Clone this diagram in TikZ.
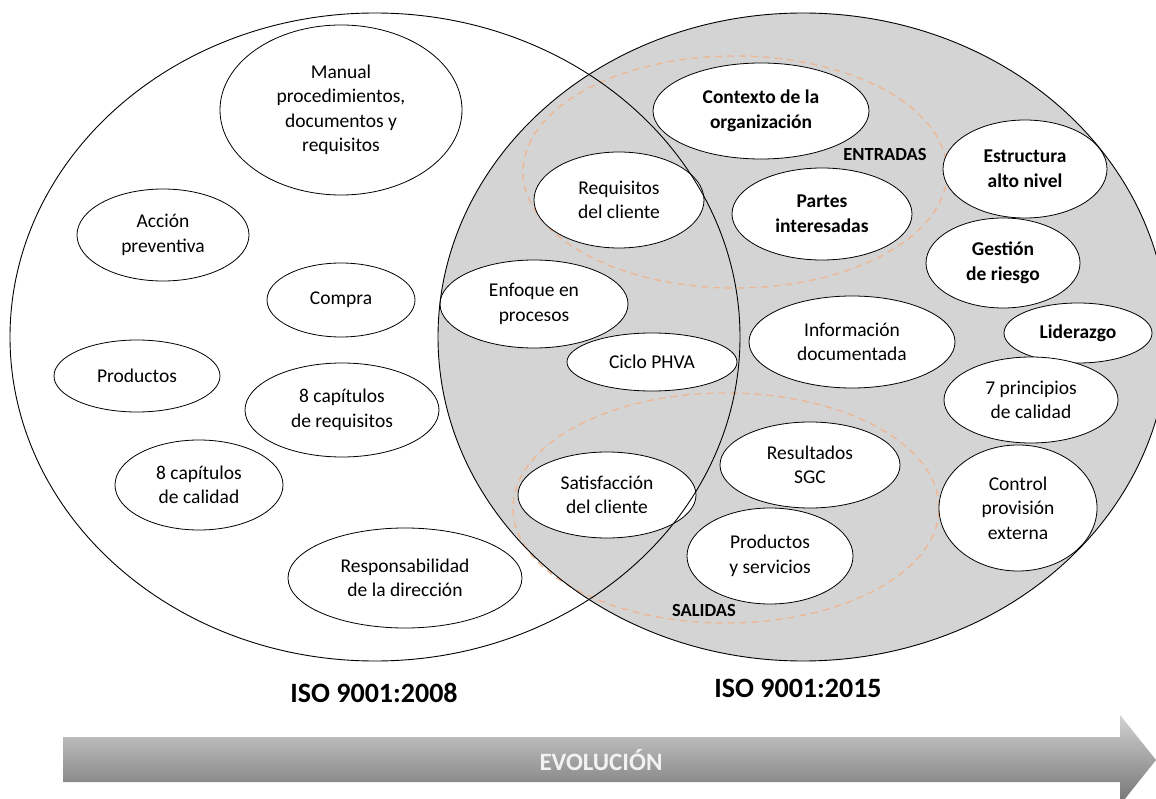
\documentclass[tikz,border=0pt]{standalone}
\usepackage{fontspec}
\setmainfont{Carlito}
\usetikzlibrary{shapes.geometric}
\definecolor{venngray}{RGB}{212,212,212}
\definecolor{dashorange}{RGB}{238,182,146}
\definecolor{arrowtop}{RGB}{210,210,210}
\definecolor{arrowbot}{RGB}{115,115,115}
\definecolor{evotext}{RGB}{242,242,242}

\begin{document}
\begin{tikzpicture}[x=1pt,y=-1pt]
	\tikzstyle{every node}+=[inner sep=0pt]
	\tikzstyle{bub}=[draw=black, line width=0.8pt, fill=white, ellipse, align=center, font=\fontsize{19.5}{24.5}\selectfont]
	\tikzstyle{bubb}=[bub, font=\fontsize{19.5}{24.5}\selectfont\bfseries]
	\tikzstyle{tag}=[font=\fontsize{18.5}{22}\selectfont\bfseries]
	\tikzstyle{iso}=[font=\fontsize{28}{34}\selectfont\bfseries]
	\tikzstyle{zone}=[dashorange, line width=1.3pt, dash pattern=on 7pt off 5pt]
	\useasboundingbox (0,0) rectangle (1156,799);
	\coordinate (c08) at (375,337);
	\coordinate (c15) at (803,337);
	\fill [venngray] (c15) ellipse (365pt and 324pt);
	% entradas / salidas
	\draw [zone] (735,172) ellipse (212pt and 116pt);
	\draw [zone] (726,508) ellipse (213pt and 115pt);
	% ISO 9001:2008
	\node [bub, minimum width=242pt, minimum height=170pt] (manual) at (341,110) {Manual\\procedimientos,\\documentos y\\requisitos};
	\node [bub, minimum width=172pt, minimum height=92pt] (accion) at (163,235) {Acción\\preventiva};
	\node [bub, minimum width=148pt, minimum height=74pt] (compra) at (341,300) {Compra};
	\node [bub, minimum width=166pt, minimum height=72pt] (productos) at (137,376) {Productos};
	\node [bub, minimum width=194pt, minimum height=94pt] (capreq) at (342,410) {8 capítulos\\de requisitos};
	\node [bub, minimum width=168pt, minimum height=90pt] (capcal) at (199,485) {8 capítulos\\de calidad};
	\node [bub, minimum width=234pt, minimum height=100pt] (resp) at (405,578) {Responsabilidad\\de la dirección};
	% comunes
	\node [bub, minimum width=188pt, minimum height=88pt] (enfoque) at (534,304) {Enfoque en\\procesos};
	\node [bub, minimum width=170pt, minimum height=58pt] (ciclo) at (652,362) {Ciclo PHVA};
	\node [bub, minimum width=170pt, minimum height=96pt] (reqcli) at (619,200) {Requisitos\\del cliente};
	\node [bub, minimum width=178pt, minimum height=86pt] (satisf) at (607,495) {Satisfacción\\del cliente};
	% ISO 9001:2015
	\node [bubb, minimum width=216pt, minimum height=96pt] (contexto) at (761,111) {Contexto de la\\organización};
	\node [bubb, minimum width=180pt, minimum height=92pt] (partes) at (822,214) {Partes\\interesadas};
	\node [bub, minimum width=206pt, minimum height=92pt] (info) at (852,342) {Información\\documentada};
	\node [bubb, minimum width=164pt, minimum height=98pt] (estructura) at (1025,169) {Estructura\\alto nivel};
	\node [bubb, minimum width=154pt, minimum height=90pt] (gestion) at (1003,263) {Gestión\\de riesgo};
	\node [bubb, minimum width=148pt, minimum height=60pt] (liderazgo) at (1078,333) {Liderazgo};
	\node [bub, minimum width=174pt, minimum height=86pt] (principios) at (1031,400) {7 principios\\de calidad};
	\node [bub, minimum width=158pt, minimum height=126pt] (control) at (1018,508) {Control\\provisión\\externa};
	\node [bub, minimum width=180pt, minimum height=86pt] (resultados) at (810,465) {Resultados\\SGC};
	\node [bub, minimum width=166pt, minimum height=96pt] (prodserv) at (770,556) {Productos\\y servicios};
	% contornos
	\draw [black, line width=0.9pt] (c08) ellipse (365pt and 324pt);
	\draw [black, line width=0.9pt] (c15) ellipse (365pt and 324pt);
	\node [tag] (entradas) at (885,155) {ENTRADAS};
	\node [tag] (salidas) at (704,610) {SALIDAS};
	\node [iso] (iso08) at (374,693) {ISO 9001:2008};
	\node [iso] (iso15) at (798,688) {ISO 9001:2015};
	% flecha
	\shade [top color=arrowtop, bottom color=arrowbot] (63,737) -- (1120,737) -- (1120,715) -- (1156,760) -- (1120,805) -- (1120,782) -- (63,782) -- cycle;
	\node [font=\fontsize{25}{30}\selectfont\bfseries, text=evotext] (evol) at (601,760) {EVOLUCIÓN};
\end{tikzpicture}
\end{document}
